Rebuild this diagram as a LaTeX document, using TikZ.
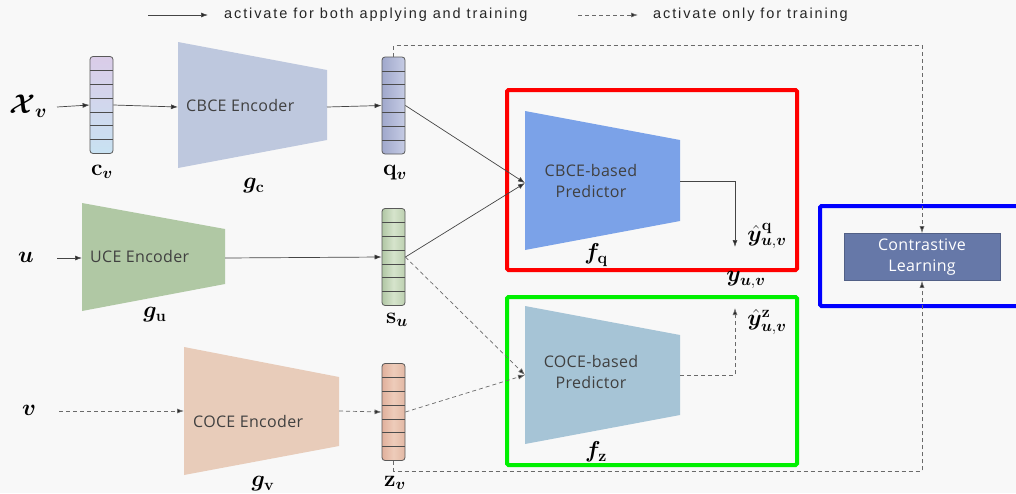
\RequirePackage{fix-cm}
\documentclass[tikz,border=0pt]{standalone}
\usepackage{amsmath,bm}
\usepackage{fontspec}
\setmainfont{Latin Modern Roman}
\newfontfamily\legendfont[LetterSpace=13]{Liberation Sans}
\newfontfamily\boxfont[LetterSpace=2]{Open Sans}
\usetikzlibrary{arrows.meta,calc}

\definecolor{bg}{HTML}{F8F8F8}
\definecolor{conn}{HTML}{454545}
\definecolor{dconn}{HTML}{6A6A6A}
\definecolor{encC}{HTML}{BEC8DE}
\definecolor{encU}{HTML}{B0C8A4}
\definecolor{encV}{HTML}{E8CCBA}
\definecolor{predQ}{HTML}{7BA2E8}
\definecolor{predZ}{HTML}{A6C4D6}
\definecolor{clfill}{HTML}{6678A8}

\tikzset{
  tip/.style={-{Latex[length=7pt,width=5pt,fill=black!85]}},
  solidconn/.style={tip, draw=conn, line width=0.7pt},
  dashconn/.style={tip, draw=dconn, line width=0.7pt, dash pattern=on 4pt off 3pt},
  legendtext/.style={anchor=west, inner sep=0pt, font=\legendfont\fontsize{14.5}{18}\selectfont, text=black!85},
  boxtext/.style={inner sep=0pt, font=\boxfont\fontsize{16}{21}\selectfont, text=black!75, align=center},
  mathlabel/.style={inner sep=0pt, font=\fontsize{23}{27}\selectfont},
  vecbox/.style={draw=black!65, line width=0.8pt, rounded corners=3pt,
    minimum width=23pt, minimum height=97pt, inner sep=0pt,
    path picture={\foreach \k in {1,...,6}{
      \draw[black!70, line width=0.7pt]
        ($(path picture bounding box.north west)!\k/7!(path picture bounding box.south west)$) --
        ($(path picture bounding box.north east)!\k/7!(path picture bounding box.south east)$);}}},
  frame/.style={line width=4pt, rounded corners=1.5pt},
}

\begin{document}
\begin{tikzpicture}[x=1pt,y=-1pt]
\fill[bg] (0,0) rectangle (1016,493);
\useasboundingbox (0,0) rectangle (1016,493);

% legend
\coordinate (la1) at (148,15); \coordinate (la2) at (208,15);
\coordinate (lb1) at (578,15); \coordinate (lb2) at (638,15);
\draw[solidconn] (la1) -- (la2);
\node[legendtext] (lta) at (224,15) {activate for both applying and training};
\draw[dashconn] (lb1) -- (lb2);
\node[legendtext] (ltb) at (653,15) {activate only for training};

% encoders (trapezoids)
\fill[encC] (178,42) -- (327,70) -- (327,140) -- (178,168) -- cycle;
\fill[encU] (82,203) -- (225,229) -- (225,284) -- (82,311) -- cycle;
\fill[encV] (184,347) -- (339,377) -- (339,446) -- (184,475) -- cycle;
\coordinate (encCin) at (178,107); \coordinate (encCout) at (327,107);
\coordinate (encUin) at (82,258);  \coordinate (encUout) at (225,258);
\coordinate (encVin) at (184,411); \coordinate (encVout) at (339,411);
\node[boxtext, anchor=west] (encCt) at (186,105) {CBCE Encoder};
\node[boxtext, anchor=west] (encUt) at (90,256) {UCE Encoder};
\node[boxtext, anchor=west] (encVt) at (193,421) {COCE Encoder};
\node[mathlabel] (gc) at (254,186) {$\bm{g}_{\mathbf{c}}$};
\node[mathlabel] (gu) at (155,315) {$\bm{g}_{\mathbf{u}}$};
\node[mathlabel] (gv) at (263,484) {$\bm{g}_{\mathbf{v}}$};

% predictors (trapezoids)
\fill[predQ] (525,111) -- (680,140) -- (680,221) -- (525,250) -- cycle;
\fill[predZ] (525,306) -- (680,335) -- (680,415) -- (525,444) -- cycle;
\coordinate (pQin) at (525,183); \coordinate (pQout) at (680,181);
\coordinate (pZin) at (525,375); \coordinate (pZout) at (680,375);
\node[boxtext] (pQt) at (591,181) {CBCE-based\\Predictor};
\node[boxtext] (pZt) at (591,372) {COCE-based\\Predictor};
\node[mathlabel] (fq) at (596,255) {$\bm{f}_{\mathbf{q}}$};
\node[mathlabel] (fz) at (596,452) {$\bm{f}_{\mathbf{z}}$};

% frames
\draw[frame, draw={rgb,255:red,255;green,0;blue,0}] (507,90) rectangle (797,270);
\draw[frame, draw={rgb,255:red,0;green,240;blue,0}] (507,297) rectangle (797,465);
\draw[frame, draw={rgb,255:red,0;green,0;blue,255}] (820,206) rectangle (1030,306);

% embedding vectors
\node[vecbox, top color={rgb,255:red,218;green,204;blue,232}, bottom color={rgb,255:red,200;green,226;blue,242}] (cv) at (101.5,105) {};
\node[vecbox, left color={rgb,255:red,160;green,168;blue,204}, right color={rgb,255:red,198;green,204;blue,228}] (qv) at (393.5,105.5) {};
\node[vecbox, left color={rgb,255:red,176;green,198;blue,164}, right color={rgb,255:red,188;green,208;blue,176}, middle color={rgb,255:red,214;green,228;blue,204}] (su) at (393.5,257) {};
\node[vecbox, left color={rgb,255:red,224;green,176;blue,156}, right color={rgb,255:red,226;green,184;blue,164}, middle color={rgb,255:red,238;green,204;blue,186}] (zv) at (393.5,412) {};
\node[mathlabel] (cvl) at (102,172) {$\mathbf{c}_{\bm{v}}$};
\node[mathlabel] (qvl) at (395,173) {$\mathbf{q}_{\bm{v}}$};
\node[mathlabel] (sul) at (397,320) {$\mathbf{s}_{\bm{u}}$};
\node[mathlabel] (zvl) at (395,483) {$\mathbf{z}_{\bm{v}}$};

% inputs
\node[mathlabel, font=\fontsize{27}{30}\selectfont] (xv) at (28,106) {$\bm{\mathcal{X}}_{\bm{v}}$};
\node[mathlabel] (u) at (26,257) {$\bm{u}$};
\node[mathlabel] (v) at (29,410) {$\bm{v}$};

% contrastive learning
\node[fill=clfill, draw=clfill!80!black, line width=0.6pt, minimum width=156pt, minimum height=47pt,
      text=white, font=\boxfont\fontsize{16}{21}\selectfont, align=center, inner sep=0pt]
      (cl) at (922,257) {Contrastive\\Learning};

% output labels
\coordinate (yqA) at (735,181); \coordinate (yqB) at (735,247);
\coordinate (yzA) at (735,375); \coordinate (yzB) at (735,308);
\node[mathlabel] (yq) at (767,236) {$\hat{\bm{y}}^{\mathbf{q}}_{\bm{u},\bm{v}}$};
\node[mathlabel] (yz) at (767,322) {$\hat{\bm{y}}^{\mathbf{z}}_{\bm{u},\bm{v}}$};
\node[mathlabel] (y) at (746,280) {$\bm{y}_{\bm{u},\bm{v}}$};

% connectors: both applying and training
\coordinate (xvo) at (57,107);
\coordinate (uo) at (57,258);
\coordinate (vo) at (59,411);
\draw[solidconn] (xvo) -- (cv.west);
\draw[solidconn] (cv.east) -- (encCin);
\draw[solidconn] (encCout) -- (qv.west);
\draw[solidconn] (uo) -- (encUin);
\draw[solidconn] (encUout) -- (su.west);
\draw[solidconn] (qv.east) -- (pQin);
\draw[solidconn] (su.east) -- (pQin);
\draw[solidconn] (pQout) -- (yqA) -- (yqB);

% connectors: training only
\draw[dashconn] (vo) -- (encVin);
\draw[dashconn] (encVout) -- (zv.west);
\draw[dashconn] (su.east) -- (pZin);
\draw[dashconn] (zv.east) -- (pZin);
\draw[dashconn] (pZout) -- (yzA) -- (yzB);
\draw[dashconn] (qv.north) -- ++(0,-11) -| (cl.north);
\draw[dashconn] (zv.south) -- ++(0,10) -| (cl.south);
\end{tikzpicture}
\end{document}
